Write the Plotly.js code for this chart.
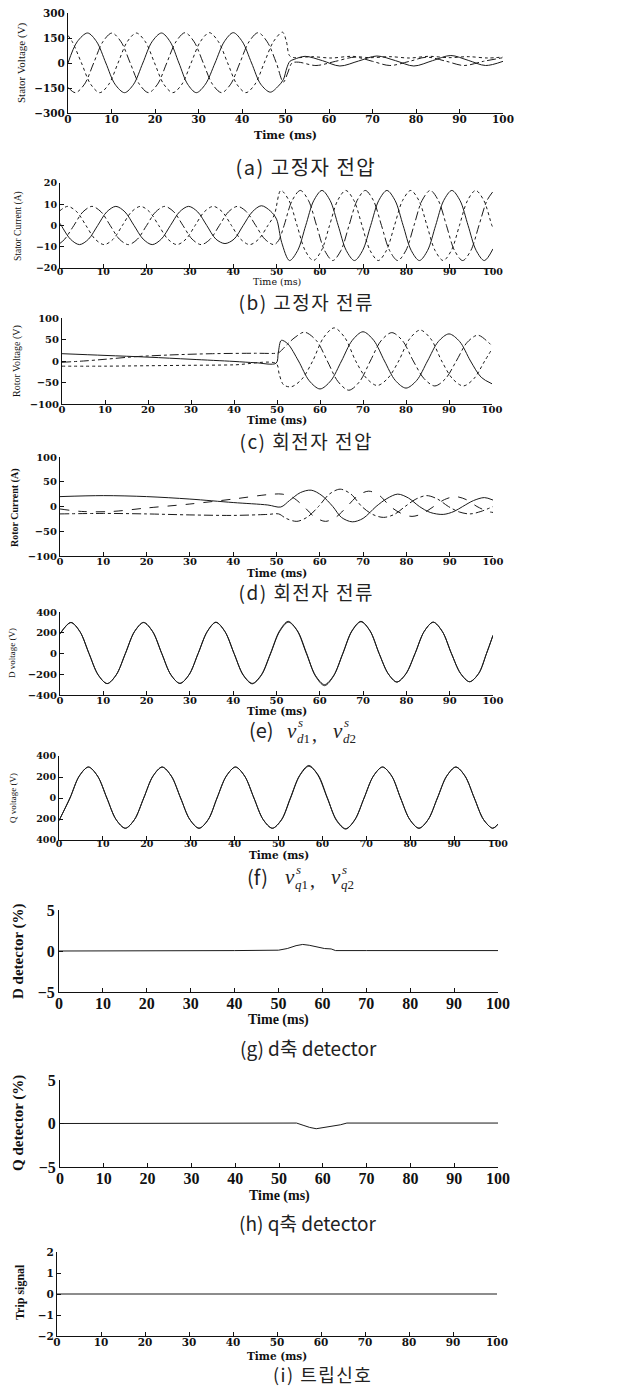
<!DOCTYPE html>
<html><head><meta charset="utf-8">
<script src="https://cdn.plot.ly/plotly-3.0.1.min.js"></script>
<style>html,body{margin:0;padding:0;background:#fff}#chart{width:635px;height:1389px}</style>
</head><body><div id="chart"></div><script>
// ---------- (a) Stator voltage ----------
const aT1=[0,2.1,4.5,6.6,8.7,10.8,13.0,15.1,17.2,19.3,21.5,23.5,25.5,27.5,29.5,31.6,33.8,35.9,38.0,40.1,42.2,44.3,46.5,48.3,49.5,50.3,51.0,52.0,54.5,58.5,62.5,66.8,71.0,75.3,79.5,83.8,88.0,92.0,96.0,100];
const aV1=[0,127,180,127,0,-127,-178,-127,0,127,180,127,0,-127,-178,-127,0,127,182,127,0,-127,-175,-140,-100,-30,10,22,40,14,-18,12,42,14,-18,14,45,16,-15,10];
const aT2=[0,1.7,3.8,5.9,8.0,10.1,12.2,14.3,16.4,18.5,20.6,22.7,24.8,26.9,29.0,31.1,33.2,35.3,37.4,39.5,41.6,43.7,45.8,47.9,49.5,50.5,51.5,53.0,57.0,61.5,66.0,70.0,74.0,78.5,82.5,87.0,91.0,95.5,100];
const aV2=[-146,-178,-127,0,127,180,127,0,-127,-178,-127,0,127,182,127,0,-127,-178,-127,0,127,182,127,0,-115,-60,0,5,-15,10,35,10,-15,10,35,10,-15,10,32];
const aT3=[0,1.0,3.1,5.2,7.3,9.4,11.5,13.6,15.7,17.8,19.9,22.0,24.1,26.2,28.3,30.4,32.5,34.6,36.7,38.8,40.9,43.0,45.1,47.2,49.3,50.2,50.9,52.0,56.0,60.5,65.0,69.5,74.0,78.5,83.0,87.5,92.0,96.5,100];
const aV3=[165,127,0,-127,-178,-127,0,127,180,127,0,-127,-178,-127,0,127,182,127,0,-127,-178,-127,0,127,185,130,45,32,38,30,40,32,38,30,40,32,38,30,36];
// ---------- (b) Stator current ----------
const bT1=[0,0.3,2.4,4.5,6.6,8.7,10.8,12.9,15.0,17.1,19.2,21.3,23.4,25.5,27.6,29.7,31.8,33.9,36.0,38.1,40.2,42.3,44.4,46.5,48.6,50.0,51.2,53.0,54.9,56.75,58.6,60.5,62.4,64.25,66.1,68.0,69.9,71.75,73.6,75.5,77.4,79.25,81.1,83.0,84.9,86.75,88.6,90.5,92.4,94.25,96.1,98.0,100];
const bV1=[1,0,-6.4,-9,-6.4,0,6.4,9,6.4,0,-6.4,-9,-6.4,0,6.4,9,6.4,0,-6.4,-8.5,-6.4,0,6.4,9.3,6.8,3,-8,-16.5,-11.7,0,11.7,16.5,11.7,0,-11.7,-16.5,-11.7,0,11.7,16.5,11.7,0,-11.7,-16.5,-11.7,0,11.7,16.5,11.7,0,-11.7,-16.5,-11];
const bT2=[0,1.8,3.9,6.0,8.1,10.2,12.3,14.4,16.5,18.6,20.7,22.8,24.9,27.0,29.1,31.2,33.3,35.4,37.5,39.6,41.7,43.8,45.9,48.0,49.5,51.0,52.9,54.75,56.6,58.5,60.4,62.25,64.1,66.0,67.9,69.75,71.6,73.5,75.4,77.25,79.1,81.0,82.9,84.75,86.6,88.5,90.4,92.25,94.1,96.0,97.9,99.75,100];
const bV2=[7,9,6.4,0,-6.4,-9,-6.4,0,6.4,9,6.4,0,-6.4,-9,-6.4,0,6.4,9,6.4,0,-6.4,-9,-6.4,0,5,16.5,11.7,0,-11.7,-16.5,-11.7,0,11.7,16.5,11.7,0,-11.7,-16.5,-11.7,0,11.7,16.5,11.7,0,-11.7,-16.5,-11.7,0,11.7,16.5,11.7,0,-1];
const bT3=[0,1.1,3.2,5.3,7.4,9.5,11.6,13.7,15.8,17.9,20.0,22.1,24.2,26.3,28.4,30.5,32.6,34.7,36.8,38.9,41.0,43.1,45.2,47.3,49.4,50.5,51.75,53.6,55.5,57.4,59.25,61.1,63.0,64.9,66.75,68.6,70.5,72.4,74.25,76.1,78.0,79.9,81.75,83.6,85.5,87.4,89.25,91.1,93.0,94.9,96.75,98.6,100];
const bV3=[-8.4,-6.4,0,6.4,9,6.4,0,-6.4,-9,-6.4,0,6.4,9,6.4,0,-6.4,-9,-6.4,0,6.4,9,6.4,0,-6.4,-9,-7,0,11.7,16.5,11.7,0,-11.7,-16.5,-11.7,0,11.7,16.5,11.7,0,-11.7,-16.5,-11.7,0,11.7,16.5,11.7,0,-11.7,-16.5,-11.7,0,11.7,16];
// ---------- (c) Rotor voltage ----------
const cT1=[0,10,20,30,40,45,49.8,50.3,51.0,52.5,55.0,57.5,60.0,62.5,65.0,67.5,70.0,72.5,75.0,77.5,80.0,82.5,85.0,87.5,90.0,92.5,95.0,97.5,100];
const cV1=[17,13,9,4,-1,-4,-5,20,48,40,0,-46,-65,-46,0,48,68,48,0,-45,-63,-45,0,45,63,45,0,-38,-53];
const cT2=[0,5,10,17,25,35,45,49.8,50.5,52.5,54.2,56.4,59.2,61.7,64.2,66.7,69.2,71.7,74.2,76.7,79.2,81.7,84.2,86.7,89.2,91.7,94.2,96.7,99.2,100];
const cV2=[-3,0,4,10,14,17,18,18,20,40,55,67,47,0,-48,-68,-48,0,47,66,47,0,-41,-58,-41,0,43,60,43,35];
const cT3=[0,10,20,30,40,49.8,50.5,51.5,53.3,55.8,58.3,60.8,63.3,65.8,68.3,70.8,73.3,75.8,78.3,80.8,83.3,85.8,88.3,90.8,93.3,95.8,98.3,100];
const cV3=[-12,-12,-11,-10,-9,-6,-30,-55,-60,-42,0,54,77,54,0,-40,-57,-40,0,51,72,51,0,-41,-58,-41,0,28];
// ---------- (d) Rotor current ----------
const dT1=[0,10,20,30,40,48,51.0,53.0,55.5,58.0,60.5,63.0,65.0,67.5,70.0,73.0,75.5,78.0,80.5,83.0,85.5,88.5,91.0,93.0,95.5,98.0,100];
const dV1=[20,22,20,15,8,3,-1,12,28,33,22,0,-22,-31,-24,0,16,25,17,0,-12,-16,-10,0,12,18,13];
const dT2=[0,5,12,20,30,40,48,51.3,53.8,56.3,58.8,61.3,63.8,66.3,68.8,71.3,73.8,76.3,78.8,81.3,83.8,86.3,88.8,91.3,93.8,96.3,98.8,100];
const dV2=[-5,-10,-10,-3,5,15,24,25,18,0,-21,-30,-21,0,22,31,22,0,-14,-20,-14,0,14,20,14,0,-10,-12];
const dT3=[0,10,20,30,40,48,50.5,52.2,54.7,57.2,59.7,62.2,64.7,67.2,69.7,72.2,74.7,77.2,79.7,82.2,84.7,87.2,89.7,92.2,94.7,97.2,100];
const dV3=[-15,-14,-15,-17,-18,-16,-15,-24,-30,-21,0,25,35,25,0,-16,-22,-16,0,15,22,15,0,-11,-15,-10,0];
// ---------- (e) D voltage (v_d1, v_d2) ----------
const eT=[0,2.5,4.6,6.7,8.8,10.9,13.0,15.1,17.2,19.3,21.4,23.5,25.6,27.7,29.8,31.9,34.0,36.0,38.1,40.2,42.3,44.4,46.5,48.6,50.7,52.7,54.8,56.9,59.0,61.1,63.2,65.3,67.4,69.5,71.6,73.7,75.8,77.8,79.9,82.0,84.1,86.2,88.3,90.4,92.5,94.6,96.7,98.5,100];
const eV1=[190,300,212,0,-205,-290,-205,0,212,300,212,0,-205,-288,-205,0,212,302,212,0,-205,-288,-205,0,218,310,218,0,-212,-300,-212,0,218,310,218,0,-195,-275,-195,0,212,302,212,0,-192,-272,-192,0,175];
const eV2=[190,298,210,0,-205,-290,-205,0,210,298,210,0,-205,-288,-205,0,210,300,210,0,-208,-292,-210,-5,210,302,222,8,-218,-310,-216,-4,214,306,218,0,-195,-275,-195,0,212,302,212,0,-192,-272,-192,0,175];
// ---------- (f) Q voltage (v_q1, v_q2) ----------
const fT=[0,2.5,4.6,6.7,8.8,10.9,13.0,15.1,17.2,19.3,21.4,23.5,25.6,27.7,29.8,31.9,34.0,36.0,38.1,40.2,42.3,44.4,46.5,48.6,50.7,52.7,54.8,56.9,59.0,61.1,63.2,65.3,67.4,69.5,71.6,73.7,75.8,77.8,79.9,82.0,84.1,86.2,88.3,90.4,92.5,94.6,96.7,98.8,100];
const fV1=[-215,0,208,295,208,0,-205,-288,-205,0,208,295,208,0,-205,-288,-205,0,208,295,208,0,-205,-288,-205,0,215,310,215,0,-208,-292,-208,0,208,295,208,0,-205,-288,-205,0,208,295,208,0,-205,-288,-250];
const fV2=[-215,0,208,295,208,0,-205,-288,-205,0,208,295,208,0,-205,-288,-205,0,208,295,208,0,-205,-288,-208,-6,210,302,222,6,-214,-296,-206,0,208,295,208,0,-205,-288,-205,0,208,295,208,0,-205,-288,-250];
// ---------- (g) D detector ----------
const gT=[0,10,20,30,40,50,52,54,55.5,57,59,60.5,62,63,70,80,90,100];
const gV=[0,0,0,0.05,0.05,0.1,0.3,0.65,0.8,0.7,0.45,0.3,0.25,0.05,0.05,0.05,0.05,0.05];
// ---------- (h) Q detector ----------
const hT=[0,10,20,30,40,50,54,55.5,57,58.5,60,62,64,65.5,70,80,90,100];
const hV=[0,0,0.05,0.05,0.05,0.05,0.05,-0.2,-0.45,-0.6,-0.5,-0.35,-0.15,0.05,0.05,0.05,0.05,0.05];
// ---------- (i) Trip signal ----------
const iT=[0,100];
const iV=[0,0];

const xTicks=[0,10,20,30,40,50,60,70,80,90,100];
const aTicks=[-300,-150,0,150,300];
const bTicks=[-20,-10,0,10,20];
const cTicks=[-100,-50,0,50,100];
const eTicks=[-400,-200,0,200,400];
const fTickText=['400','200','0','200','400'];
const gTicks=[-5,0,5];
const iTicks=[-2,-1,0,1,2];

const W=635,H=1389;
const PX=x=>x/W, PY=y=>1-y/H;
const F=(fam,size,bold)=>({family:fam,size:size,color:'#111',weight:bold?'bold':'normal'});
const DJ='DejaVu Serif', LS='Liberation Serif';

const panels=[
 {x0:68,x1:503,yt:13,yb:113,range:[-300,300],tv:aTicks,tt:null,tf:F(DJ,10.5,1),so:-4,yl:'Stator Voltage (V)',ylx:21,yly:63,yls:11,ylb:false,ty:136,tfT:F(DJ,11,1),cap:'(a) 고정자 전압',cx:306,cy:167,cs:20,ls:1.5},
 {x0:60,x1:493,yt:183,yb:268,range:[-20,20],tv:bTicks,tt:null,tf:F(DJ,9.5,1),so:-5,yl:'Stator Current (A)',ylx:18,yly:226,yls:9.5,ylb:false,ty:282,tfT:F(DJ,9.5,0),cap:'(b) 고정자 전류',cx:306,cy:301,cs:19,ls:1.5},
 {x0:62,x1:492,yt:318,yb:404,range:[-100,100],tv:cTicks,tt:null,tf:F(DJ,10,1),so:-4,yl:'Rotor Voltage (V)',ylx:17,yly:361,yls:10,ylb:false,ty:420,tfT:F(DJ,10.5,1),cap:'(c) 회전자 전압',cx:306,cy:440,cs:19,ls:1.5},
 {x0:60,x1:493,yt:457,yb:556,range:[-100,100],tv:cTicks,tt:null,tf:F(DJ,10,1),so:-4,yl:'Rotor Current (A)',ylx:15,yly:508,yls:10,ylb:true,ty:573,tfT:F(DJ,10.5,1),cap:'(d) 회전자 전류',cx:306,cy:592,cs:19,ls:1.5},
 {x0:60,x1:493,yt:612,yb:695,range:[-400,400],tv:eTicks,tt:null,tf:F(DJ,10,1),so:-4,yl:'D voltage (V)',ylx:12,yly:653,yls:9,ylb:false,ty:711,tfT:F(DJ,10.5,1),cap:null},
 {x0:59,x1:498,yt:756,yb:840,range:[-400,400],tv:eTicks,tt:fTickText,tf:F(DJ,9.5,1),so:-5,yl:'Q voltage (V)',ylx:13,yly:798,yls:9,ylb:false,ty:855,tfT:F(DJ,10.5,1),cap:null},
 {x0:59,x1:498,yt:910,yb:992,range:[-5,5],tv:gTicks,tt:null,tf:F(LS,16,1),so:-3,yl:'D detector (%)',ylx:18,yly:951,yls:15,ylb:true,ty:1020,tfT:F(LS,14,1),cap:'(g) d축 detector',cx:308,cy:1047,cs:19,ls:0},
 {x0:60,x1:498,yt:1080,yb:1167,range:[-5,5],tv:gTicks,tt:null,tf:F(LS,16,1),so:-3,yl:'Q detector (%)',ylx:18,yly:1123,yls:15,ylb:true,ty:1196,tfT:F(LS,14,1),cap:'(h) q축 detector',cx:308,cy:1222,cs:19,ls:0},
 {x0:57,x1:497,yt:1252,yb:1336,range:[-2,2],tv:iTicks,tt:null,tf:F(DJ,10.5,1),so:-4,yl:'Trip signal',ylx:20,yly:1292,yls:12,ylb:true,ty:1356,tfT:F(DJ,10.5,1),cap:'(i) 트립신호',cx:322,cy:1374,cs:18,ls:1.5}
];

const series=[
 [[aT1,aV1,'solid'],[aT2,aV2,'dashdot'],[aT3,aV3,'dot']],
 [[bT1,bV1,'solid'],[bT2,bV2,'dot'],[bT3,bV3,'dashdot']],
 [[cT1,cV1,'solid'],[cT2,cV2,'dashdot'],[cT3,cV3,'dot']],
 [[dT1,dV1,'solid'],[dT2,dV2,'dash'],[dT3,dV3,'dashdot']],
 [[eT,eV1,'solid'],[eT,eV2,'solid']],
 [[fT,fV1,'solid'],[fT,fV2,'solid']],
 [[gT,gV,'solid']],
 [[hT,hV,'solid']],
 [[iT,iV,'solid']]
];
const linear=[false,false,false,false,false,false,true,true,true];

const traces=[];const layout={width:W,height:H,margin:{l:0,r:0,t:0,b:0},paper_bgcolor:'#fff',plot_bgcolor:'#fff',showlegend:false,annotations:[]};
const capSpacing=[];
panels.forEach((p,i)=>{
  const n=i+1, xs='x'+(n>1?n:''), ys='y'+(n>1?n:'');
  series[i].forEach(s=>{
    traces.push({x:s[0],y:s[1],xaxis:xs,yaxis:ys,type:'scatter',mode:'lines',hoverinfo:'skip',
      line:{color:'#1a1a1a',width:1,dash:s[2],shape:linear[i]?'linear':'spline',smoothing:0.9}});
  });
  layout['xaxis'+(n>1?n:'')]={domain:[PX(p.x0),PX(p.x1)],anchor:ys,range:[0,100],tickvals:xTicks,
    showline:true,linecolor:'#111',linewidth:1,ticks:'inside',ticklen:4,tickcolor:'#111',showgrid:false,zeroline:false,
    tickfont:p.tf,ticklabelstandoff:p.so,fixedrange:true};
  const ya={domain:[PY(p.yb),PY(p.yt)],anchor:xs,range:p.range,tickvals:p.tv,
    showline:true,linecolor:'#111',linewidth:1,ticks:'inside',ticklen:4,tickcolor:'#111',showgrid:false,zeroline:false,
    tickfont:p.tf,fixedrange:true};
  if(p.tt) ya.ticktext=p.tt;
  layout['yaxis'+(n>1?n:'')]=ya;
  layout.annotations.push({xref:'paper',yref:'paper',x:PX((p.x0+p.x1)/2),y:PY(p.ty),text:'Time (ms)',showarrow:false,
    xanchor:'center',yanchor:'middle',borderpad:0,font:p.tfT});
  layout.annotations.push({xref:'paper',yref:'paper',x:PX(p.ylx),y:PY(p.yly),text:p.yl,showarrow:false,textangle:-90,
    xanchor:'center',yanchor:'middle',borderpad:0,font:F(LS,p.yls,p.ylb)});
  if(p.cap){ layout.annotations.push({xref:'paper',yref:'paper',x:PX(p.cx),y:PY(p.cy),text:p.cap,showarrow:false,
    xanchor:'center',yanchor:'middle',borderpad:0,font:{family:'Noto Sans CJK KR',size:p.cs,color:'#222'}}); capSpacing.push([p.cap,p.ls]); }
});
// math captions (e), (f)
function mathCap(label,cy,x0,sub1,sub2){
  const A=(x,y,t,size)=>layout.annotations.push({xref:'paper',yref:'paper',x:PX(x),y:PY(y),text:t,showarrow:false,
    xanchor:'left',yanchor:'middle',borderpad:0,font:{family:LS,size:size,color:'#222'}});
  layout.annotations.push({xref:'paper',yref:'paper',x:PX(x0),y:PY(cy),text:label,showarrow:false,xanchor:'left',yanchor:'middle',
    borderpad:0,font:{family:'Noto Sans CJK KR',size:20,color:'#222'}});
  A(x0+38,cy+1,'<i>v</i>',21);A(x0+49,cy-7,'<i>s</i>',13);A(x0+48,cy+8,sub1,13);
  A(x0+63,cy+4,',',20);
  A(x0+84,cy+1,'<i>v</i>',21);A(x0+95,cy-7,'<i>s</i>',13);A(x0+94,cy+8,sub2,13);
}
mathCap('(e)',730,248,'<i>d</i>1','<i>d</i>2');
mathCap('(f)',876,246,'<i>q</i>1','<i>q</i>2');
Plotly.newPlot('chart',traces,layout,{staticPlot:true,displayModeBar:false}).then(()=>{
  document.querySelectorAll('.annotation-text').forEach(el=>{
    const c=capSpacing.find(q=>q[0]===el.textContent);
    if(c&&c[1]) el.setAttribute('letter-spacing',c[1]+'px');
  });
});
</script></body></html>
